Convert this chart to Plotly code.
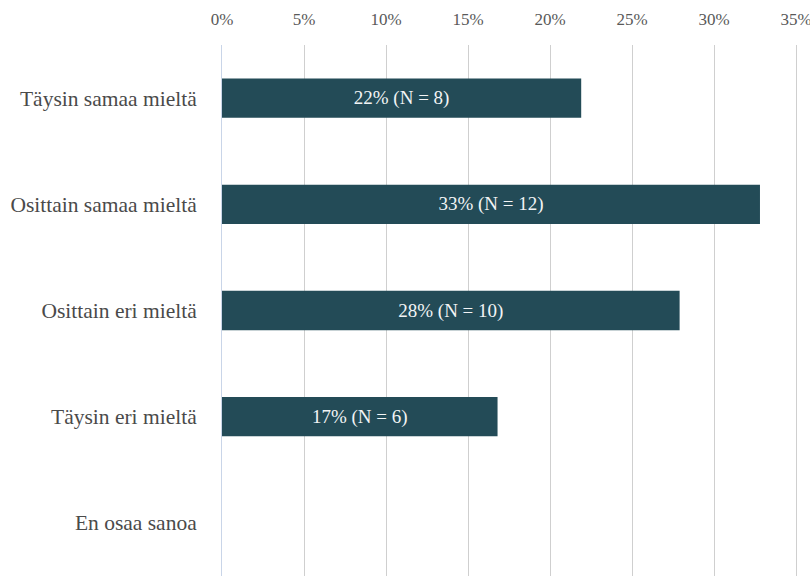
import plotly.graph_objects as go

categories = ["Täysin samaa mieltä", "Osittain samaa mieltä", "Osittain eri mieltä", "Täysin eri mieltä", "En osaa sanoa"]
values = [21.9, 32.8, 27.9, 16.8, 0]
labels = ["22% (N = 8)", "33% (N = 12)", "28% (N = 10)", "17% (N = 6)", ""]
tick_vals = [0, 5, 10, 15, 20, 25, 30, 35]
tick_text = ["0%", "5%", "10%", "15%", "20%", "25%", "30%", "35%"]

fig = go.Figure(go.Bar(
    x=values, y=categories, orientation="h",
    marker=dict(color="#234B57", line=dict(width=0)),
    width=0.37,
    text=labels, textposition="inside", insidetextanchor="middle",
    textfont=dict(family="Liberation Serif", size=19, color="#f2f4f5"),
    hoverinfo="skip",
))

fig.update_layout(
    width=810, height=576,
    margin=dict(l=222, r=0, t=45, b=0),
    plot_bgcolor="white", paper_bgcolor="white",
    showlegend=False,
    font=dict(family="Liberation Serif"),
    uniformtext=dict(minsize=8, mode="show"),
    xaxis=dict(
        side="top", range=[0, 35.85], tickvals=tick_vals, ticktext=tick_text,
        showgrid=True, gridcolor="#cfcfcf", gridwidth=1, zeroline=False,
        showline=False, ticks="", ticklabelstandoff=16, automargin=False,
        ticklabeloverflow="allow",
        tickfont=dict(family="Liberation Serif", size=17, color="#595959"),
    ),
    yaxis=dict(
        autorange="reversed", showgrid=False, zeroline=False,
        showline=True, linecolor="#c9d5e8", linewidth=1, ticks="",
        ticklabelstandoff=20, automargin=False,
        tickfont=dict(family="Liberation Serif", size=21.5, color="#4a4a4a"),
    ),
)

fig.write_html(
    "out.html",
    config={"displayModeBar": False},
    post_script="document.body.style.margin='0';document.body.style.overflow='hidden';",
)
